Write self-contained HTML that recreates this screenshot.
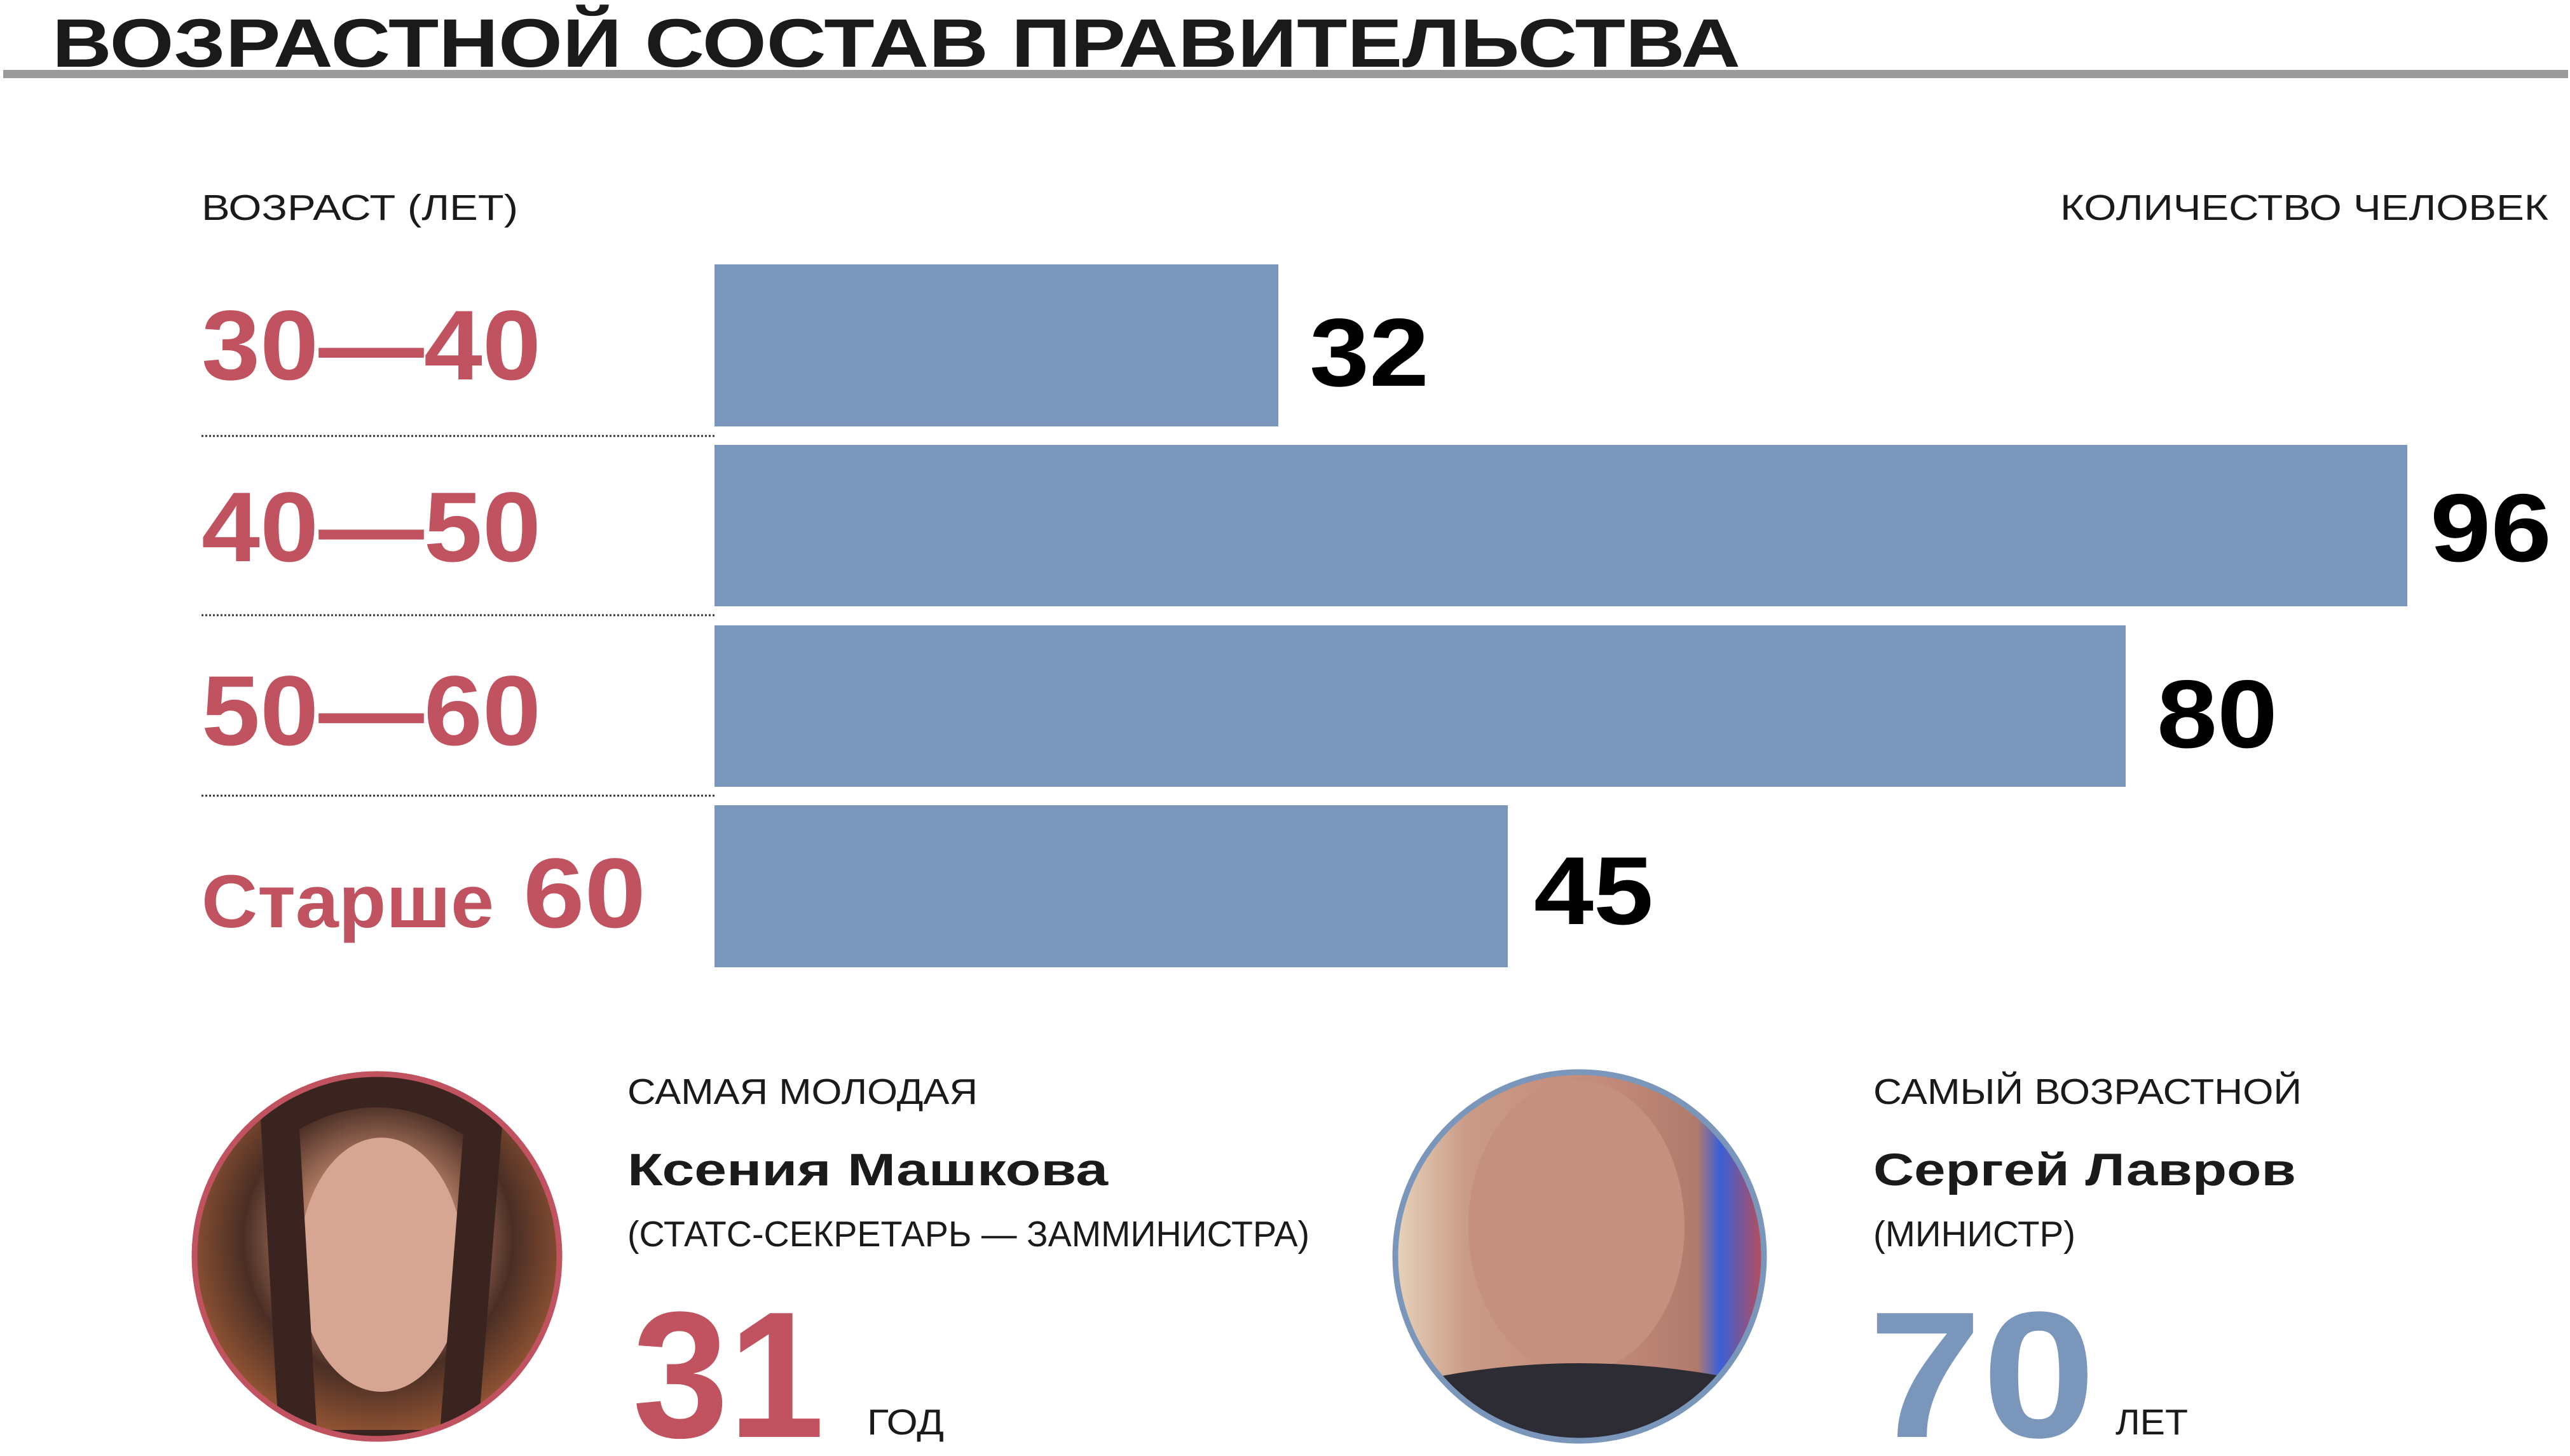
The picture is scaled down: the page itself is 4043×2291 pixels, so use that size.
<!DOCTYPE html>
<html><head><meta charset="utf-8"><style>
html,body{margin:0;padding:0;background:#fff;}
svg{display:block;}
text{font-family:"Liberation Sans",sans-serif;}
</style></head><body>
<svg width="4043" height="2291" viewBox="0 0 4043 2291" xmlns="http://www.w3.org/2000/svg">
<defs>
<radialGradient id="w" cx="50%" cy="45%" r="60%">
<stop offset="0" stop-color="#d9a58f"/><stop offset="0.35" stop-color="#b07a62"/><stop offset="0.6" stop-color="#4a2e25"/><stop offset="1" stop-color="#b8683a"/>
</radialGradient>
<linearGradient id="m" x1="0" x2="1" y1="0" y2="0">
<stop offset="0" stop-color="#e8d5bd"/><stop offset="0.2" stop-color="#c99a86"/><stop offset="0.55" stop-color="#c48b7a"/><stop offset="0.8" stop-color="#b07a6c"/><stop offset="0.86" stop-color="#3a5fd6"/><stop offset="1" stop-color="#d84a3a"/>
</linearGradient>
<clipPath id="c1"><circle cx="593" cy="1977" r="287"/></clipPath>
<clipPath id="c2"><circle cx="2485" cy="1977" r="290"/></clipPath>
</defs>
<text x="82" y="105" font-size="108" font-weight="bold" fill="#1a1a1a" textLength="2656" lengthAdjust="spacingAndGlyphs">ВОЗРАСТНОЙ СОСТАВ ПРАВИТЕЛЬСТВА</text>
<rect x="5" y="110" width="4035" height="13" fill="#9b9b9b"/>
<text x="317" y="346" font-size="57" fill="#1a1a1a" textLength="498" lengthAdjust="spacingAndGlyphs">ВОЗРАСТ (ЛЕТ)</text>
<text x="3241" y="346" font-size="57" fill="#1a1a1a" textLength="768" lengthAdjust="spacingAndGlyphs">КОЛИЧЕСТВО ЧЕЛОВЕК</text>
<g fill="#7b96bb">
<rect x="1124" y="416" width="887" height="255"/>
<rect x="1124" y="700" width="2663" height="254"/>
<rect x="1124" y="984" width="2220" height="254"/>
<rect x="1124" y="1267" width="1248" height="255"/>
</g>
<g stroke="#333" stroke-width="3" stroke-dasharray="3 3">
<line x1="317" y1="686" x2="1127" y2="686"/>
<line x1="317" y1="968" x2="1127" y2="968"/>
<line x1="317" y1="1252" x2="1127" y2="1252"/>
</g>
<g fill="#c1525f" font-weight="bold">
<text x="317" y="597" font-size="156" textLength="534" lengthAdjust="spacingAndGlyphs">30—40</text>
<text x="317" y="883" font-size="156" textLength="534" lengthAdjust="spacingAndGlyphs">40—50</text>
<text x="317" y="1172" font-size="156" textLength="534" lengthAdjust="spacingAndGlyphs">50—60</text>
<text x="317" y="1459" font-size="118" textLength="460" lengthAdjust="spacingAndGlyphs">Старше</text>
<text x="823" y="1459" font-size="156" textLength="193" lengthAdjust="spacingAndGlyphs">60</text>
</g>
<g fill="#000" font-weight="bold" font-size="152">
<text x="2060" y="607" textLength="188" lengthAdjust="spacingAndGlyphs">32</text>
<text x="3823" y="883" textLength="191" lengthAdjust="spacingAndGlyphs">96</text>
<text x="3393" y="1176" textLength="190" lengthAdjust="spacingAndGlyphs">80</text>
<text x="2413" y="1454" textLength="188" lengthAdjust="spacingAndGlyphs">45</text>
</g>
<g clip-path="url(#c1)">
<rect x="300" y="1680" width="590" height="600" fill="url(#w)"/>
<ellipse cx="600" cy="1990" rx="130" ry="200" fill="#d7a692"/>
<path d="M440 1760 Q600 1660 760 1770 L720 2280 L470 2280 Z" fill="none" stroke="#3a2420" stroke-width="60"/>
</g>
<circle cx="593" cy="1977" r="287" fill="none" stroke="#c1525f" stroke-width="9"/>
<g clip-path="url(#c2)">
<rect x="2190" y="1680" width="600" height="600" fill="url(#m)"/>
<ellipse cx="2480" cy="1930" rx="170" ry="230" fill="#c6907f"/>
<path d="M2200 2180 Q2480 2110 2780 2180 L2780 2280 L2200 2280 Z" fill="#2d2b33"/>
</g>
<circle cx="2485" cy="1977" r="290" fill="none" stroke="#7b96bb" stroke-width="9"/>
<g fill="#1a1a1a">
<text x="987" y="1737" font-size="57" textLength="551" lengthAdjust="spacingAndGlyphs">САМАЯ МОЛОДАЯ</text>
<text x="987" y="1865" font-size="71" font-weight="bold" textLength="756" lengthAdjust="spacingAndGlyphs">Ксения Машкова</text>
<text x="987" y="1961" font-size="57" textLength="1073" lengthAdjust="spacingAndGlyphs">(СТАТС-СЕКРЕТАРЬ — ЗАММИНИСТРА)</text>
<text x="1364" y="2257" font-size="57" textLength="121" lengthAdjust="spacingAndGlyphs">ГОД</text>
<text x="2947" y="1737" font-size="57" textLength="674" lengthAdjust="spacingAndGlyphs">САМЫЙ ВОЗРАСТНОЙ</text>
<text x="2947" y="1865" font-size="71" font-weight="bold" textLength="665" lengthAdjust="spacingAndGlyphs">Сергей Лавров</text>
<text x="2947" y="1961" font-size="57" textLength="318" lengthAdjust="spacingAndGlyphs">(МИНИСТР)</text>
<text x="3328" y="2257" font-size="57" textLength="114" lengthAdjust="spacingAndGlyphs">ЛЕТ</text>
</g>
<text x="995" y="2261" font-size="283" font-weight="bold" fill="#c1525f" textLength="302" lengthAdjust="spacingAndGlyphs">31</text>
<text x="2939" y="2261" font-size="283" font-weight="bold" fill="#7b96bb" textLength="358" lengthAdjust="spacingAndGlyphs">70</text>
</svg>
</body></html>
